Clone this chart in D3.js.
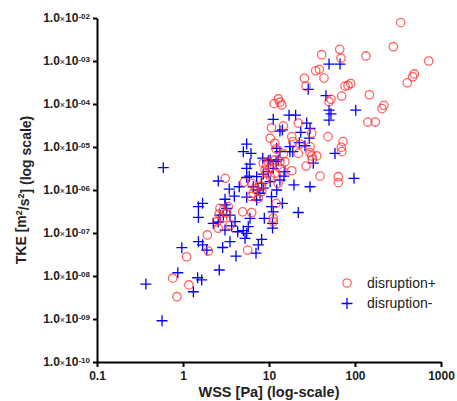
<!DOCTYPE html>
<html>
<head>
<meta charset="utf-8">
<script src="https://cdn.jsdelivr.net/npm/d3@7"></script>
<style>
  body { margin: 0; background: #fff; }
  svg { display: block; font-family: "Liberation Sans", Arial, sans-serif; }
</style>
</head>
<body>
<div id="app"></div>
<script>
// disruption+ (red circles)
const posWSS = [340, 279, 720, 134, 489, 469, 405, 66.4, 68.8, 41.0, 34.9, 38.5, 25.8, 43.6, 26.9, 76.5, 82.9, 89.1,
  70.0, 147, 52.6, 49.9, 217, 206, 12.8, 13.4, 11.5, 14.1, 141, 172, 21.9, 14.7, 10.7, 48.6, 31.4, 72.5, 69.3, 70.0,
  18.4, 18.9, 11.7, 10.3, 30.0, 31.4, 35.9, 31.9, 21.9, 14.7, 22.9, 26.9, 39.2, 64.0, 64.0, 18.4, 11.7, 12.1, 15.3,
  11.7, 9.82, 13.4, 10.3, 9.40, 12.8, 8.22, 8.22, 12.1, 11.2, 11.2, 3.10, 5.16, 6.29, 6.88, 7.86, 6.57, 8.98, 10.3,
  8.59, 6.18, 7.51, 2.69, 2.64, 2.89, 3.22, 3.36, 2.47, 2.57, 3.52, 4.94, 6.29, 1.92, 1.10, 1.97, 5.65, 0.76, 1.17,
  0.85, 2.94, 30.0, 9.40, 14.7, 8.98, 13.4];
const posTKE = [7.8e-3, 2.15e-3, 1.0e-3, 1.31e-3, 5.0e-4, 4.3e-4, 3.1e-4, 1.87e-3, 1.16e-3, 1.40e-3, 5.9e-4, 6.4e-4,
  3.96e-4, 4.0e-4, 2.6e-4, 2.6e-4, 2.7e-4, 3.0e-4, 1.53e-4, 1.64e-4, 1.29e-4, 1.13e-4, 9.3e-5, 7.8e-5, 1.31e-4,
  1.10e-4, 1.02e-4, 9.5e-5, 3.8e-5, 3.8e-5, 3.6e-5, 3.1e-5, 2.8e-5, 1.74e-5, 2.1e-5, 1.33e-5, 9.8e-6, 7.8e-6,
  1.74e-5, 1.33e-5, 1.22e-5, 1.6e-5, 7.4e-6, 6.2e-6, 6.2e-6, 5.2e-6, 7.1e-6, 6.9e-6, 1.17e-5, 3.6e-6, 2.1e-6,
  2.04e-6, 1.48e-6, 2.8e-6, 2.45e-6, 8.9e-6, 4.55e-6, 5.0e-6, 4.55e-6, 3.2e-6, 3.2e-6, 3.8e-6, 1.43e-6, 1.19e-6,
  9.1e-7, 4.9e-7, 2.2e-7, 1.83e-7, 1.87e-6, 1.51e-6, 1.43e-6, 1.10e-6, 1.24e-6, 8.4e-7, 1.71e-6, 2.04e-6, 4.2e-6,
  7.0e-7, 6.4e-7, 3.75e-7, 2.8e-7, 2.2e-7, 2.9e-7, 4.1e-7, 1.83e-7, 1.29e-7, 1.53e-7, 3.1e-7, 3.0e-7, 9.0e-8,
  2.8e-8, 3.8e-8, 4.0e-8, 8.9e-9, 6.2e-9, 3.3e-9, 3.4e-7, 1.02e-5, 2.45e-6, 2.67e-6, 2.9e-6, 4.55e-6];

// disruption- (blue crosses)
const negWSS = [49.9, 67.0, 28.6, 46.0, 49.9, 52.6, 49.9, 102, 17.1, 20.4, 11.2, 13.4, 14.3, 27.4, 30.0, 23.4, 29.4,
  22.5, 26.2, 17.5, 17.5, 18.9, 12.3, 58.5, 32.7, 15.3, 14.9, 12.1, 10.3, 97.3, 0.59, 5.50, 5.03, 6.18, 6.01, 5.50,
  8.45, 9.82, 2.57, 3.45, 3.95, 3.08, 5.50, 4.51, 5.50, 5.90, 7.19, 8.59, 9.82, 11.2, 6.57, 7.51, 8.22, 10.3, 1.51,
  1.69, 1.51, 3.08, 3.22, 2.69, 2.25, 2.57, 2.94, 3.52, 3.08, 3.68, 4.03, 4.33, 5.03, 5.50, 5.26, 6.01, 5.74, 8.82,
  10.7, 11.2, 11.0, 11.0, 8.22, 7.51, 7.06, 1.51, 1.69, 1.89, 0.97, 2.89, 3.52, 4.13, 2.64, 0.87, 1.48, 1.65, 1.32,
  0.37, 0.57, 10.7, 12.3, 19.5, 30.0, 14.3, 21.9, 13.4, 7.19, 7.86, 8.59, 12.8, 13.4];
const negTKE = [8.5e-4, 8.5e-4, 2.2e-4, 1.56e-4, 7.2e-5, 5.9e-5, 4.2e-5, 7.2e-5, 5.5e-5, 5.5e-5, 4.4e-5, 2.35e-5,
  2.5e-5, 3.6e-5, 2.7e-5, 2.2e-5, 1.6e-5, 1.26e-5, 1.07e-5, 1.02e-5, 7.8e-6, 7.8e-6, 9.3e-6, 7.1e-6, 4.2e-6,
  2.67e-6, 2.1e-6, 4.55e-6, 5.0e-6, 1.87e-6, 3.3e-6, 1.17e-5, 7.8e-6, 7.1e-6, 4.0e-6, 3.2e-6, 5.5e-6, 4.8e-6,
  1.62e-6, 1.05e-6, 7.2e-7, 6.1e-7, 6.8e-7, 1.19e-6, 1.97e-6, 2.1e-6, 2.04e-6, 2.35e-6, 2.67e-6, 3.2e-6, 1.19e-6,
  1.0e-6, 1.43e-6, 1.56e-6, 4.1e-7, 4.9e-7, 2.3e-7, 4.5e-7, 3.75e-7, 2.6e-7, 1.68e-7, 1.8e-7, 2.6e-7, 2.6e-7,
  1.17e-7, 1.46e-7, 1.83e-7, 1.07e-7, 1.13e-7, 9.8e-8, 7.5e-8, 2.2e-7, 1.40e-7, 2.2e-7, 4.1e-7, 3.1e-7, 1.68e-7,
  1.3e-7, 7.1e-8, 5.3e-8, 3.4e-8, 6.3e-8, 5.3e-8, 4.0e-8, 4.55e-8, 4.6e-8, 6.3e-8, 2.9e-8, 1.38e-8, 1.19e-8,
  9.1e-9, 8.1e-9, 4.3e-9, 6.5e-9, 9.1e-10, 7.0e-7, 1.0e-6, 1.31e-6, 1.19e-6, 4.9e-7, 3.0e-7, 1.71e-6, 5.85e-7,
  8.4e-7, 1.10e-6, 5.0e-6, 7.8e-6];

const xTicks = [0.1, 1, 10, 100, 1000];
const yTicks = [1e-2, 1e-3, 1e-4, 1e-5, 1e-6, 1e-7, 1e-8, 1e-9, 1e-10];
const legendLabels = ["disruption+", "disruption-"];

const width = 457, height = 401;
const margin = { left: 97, right: 16, top: 18, bottom: 39 };

const svg = d3.select("#app").append("svg")
    .attr("width", width)
    .attr("height", height);

const x = d3.scaleLog().domain([0.1, 1000]).range([margin.left, width - margin.right]);
const y = d3.scaleLog().domain([1e-10, 1e-2]).range([height - margin.bottom, margin.top]);

const plus = "M-5.5,0H5.5M0,-5.5V5.5";

// points
const neg = negWSS.map((v, i) => ({ x: v, y: negTKE[i] }));
const pos = posWSS.map((v, i) => ({ x: v, y: posTKE[i] }));

svg.append("g").selectAll("path")
    .data(neg)
    .join("path")
    .attr("d", plus)
    .attr("transform", d => `translate(${x(d.x)},${y(d.y)})`)
    .attr("stroke", "#0000ff")
    .attr("stroke-width", 1.3)
    .attr("fill", "none");

svg.append("g").selectAll("circle")
    .data(pos)
    .join("circle")
    .attr("cx", d => x(d.x))
    .attr("cy", d => y(d.y))
    .attr("r", 4.2)
    .attr("fill", "none")
    .attr("stroke", "#ff3030")
    .attr("stroke-opacity", 0.75)
    .attr("stroke-width", 1.3);

// axes
const xAxis = svg.append("g")
    .attr("transform", `translate(0,${height - margin.bottom})`)
    .call(d3.axisBottom(x).tickValues(xTicks).tickFormat(d => String(d)).tickSize(5).tickSizeOuter(0).tickPadding(4));

const yAxis = svg.append("g")
    .attr("transform", `translate(${margin.left},0)`)
    .call(d3.axisLeft(y).tickValues(yTicks).tickSize(4).tickSizeOuter(0).tickPadding(3).tickFormat(""));

[xAxis, yAxis].forEach(g => {
    g.select(".domain").attr("stroke", "#000").attr("stroke-width", 2);
    g.selectAll(".tick line").attr("stroke", "#000").attr("stroke-width", 2);
});

xAxis.selectAll(".tick text")
    .attr("font-size", 12)
    .attr("font-weight", "bold")
    .attr("fill", "#222");

yAxis.selectAll(".tick text").each(function(d) {
    const e = Math.round(Math.log10(d));
    const t = d3.select(this)
        .attr("font-size", 12)
        .attr("font-weight", "bold")
        .attr("fill", "#222");
    t.append("tspan").text("1.0");
    t.append("tspan").attr("font-size", 9).attr("font-weight", "normal").text("×");
    t.append("tspan").text("10");
    t.append("tspan").attr("font-size", 8).attr("dy", "-0.45em").text("-" + String(-e).padStart(2, "0"));
});

// axis titles
svg.append("text")
    .attr("x", (margin.left + width - margin.right) / 2)
    .attr("y", 397)
    .attr("text-anchor", "middle")
    .attr("font-size", 14.5)
    .attr("font-weight", "bold")
    .attr("fill", "#222")
    .text("WSS [Pa] (log-scale)");

const yt = svg.append("text")
    .attr("transform", `translate(26,${(margin.top + height - margin.bottom) / 2}) rotate(-90)`)
    .attr("text-anchor", "middle")
    .attr("font-size", 14)
    .attr("font-weight", "bold")
    .attr("fill", "#222");
yt.append("tspan").text("TKE [m");
yt.append("tspan").attr("font-size", 9).attr("dy", "-0.5em").text("2");
yt.append("tspan").attr("dy", "0.5em").text("/s");
yt.append("tspan").attr("font-size", 9).attr("dy", "-0.5em").text("2");
yt.append("tspan").attr("dy", "0.5em").text("] (log scale)");

// legend
const legend = svg.append("g").attr("transform", "translate(347,283)");
legend.append("circle")
    .attr("r", 4.2)
    .attr("fill", "none")
    .attr("stroke", "#ff3030")
    .attr("stroke-opacity", 0.75)
    .attr("stroke-width", 1.3);
legend.append("path")
    .attr("d", plus)
    .attr("transform", "translate(0,20.5)")
    .attr("stroke", "#0000ff")
    .attr("stroke-width", 1.3);
legend.selectAll("text")
    .data(legendLabels)
    .join("text")
    .attr("x", 20)
    .attr("y", (d, i) => i * 20.5)
    .attr("dy", "0.35em")
    .attr("font-size", 14)
    .attr("fill", "#222")
    .text(d => d);
</script>
</body>
</html>
